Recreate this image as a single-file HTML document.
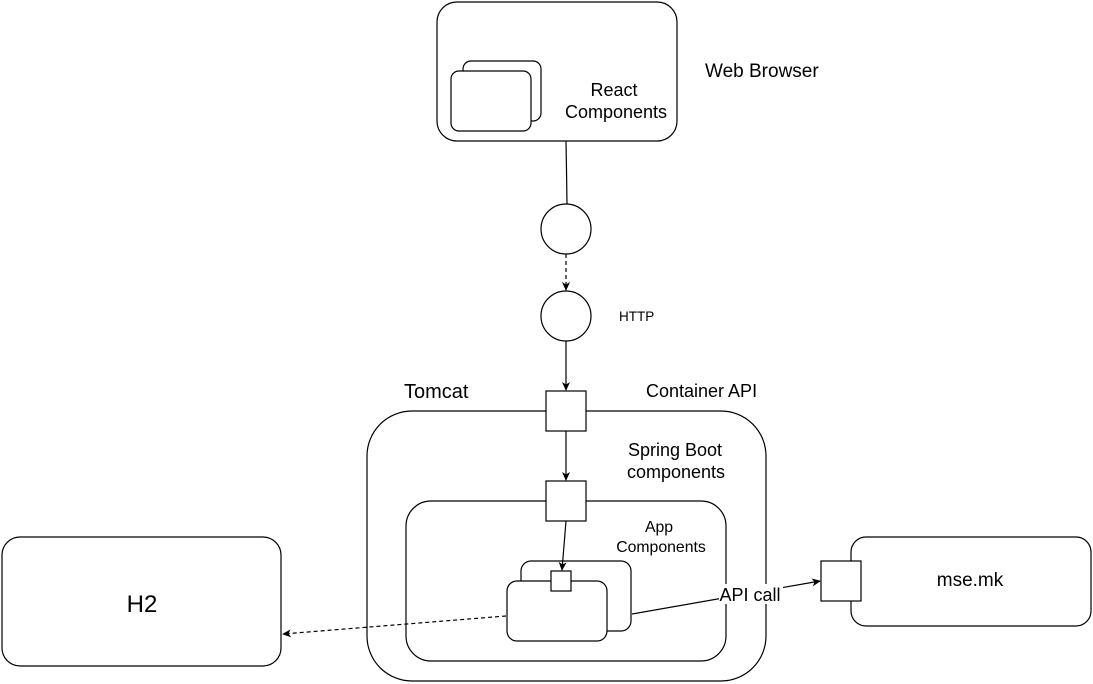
<!DOCTYPE html>
<html><head><meta charset="utf-8"><style>
html,body{margin:0;padding:0;background:#fff;}
svg{display:block;font-family:"Liberation Sans",Arial,sans-serif;}
</style></head><body>
<svg width="1093" height="684" viewBox="0 0 1093 684" xmlns="http://www.w3.org/2000/svg">
<defs>
<marker id="a" markerWidth="10" markerHeight="10" refX="8" refY="5" orient="auto" markerUnits="userSpaceOnUse">
<path d="M0,1 L9,5 L0,9 L2.5,5 Z" fill="#000"/></marker>
</defs>
<g fill="#fff" stroke="#000" stroke-width="1.2">
<rect x="437" y="2" width="240" height="139" rx="20"/>
<rect x="463" y="61" width="78" height="60" rx="8"/>
<rect x="451" y="71" width="80" height="60" rx="8"/>
<path d="M566,141 L566.5,170 L567,204" fill="none"/>
<circle cx="566" cy="229" r="25"/>
<circle cx="566" cy="316" r="25"/>
<rect x="367" y="411" width="399" height="270" rx="45"/>
<rect x="406" y="501" width="320" height="160" rx="25"/>
<rect x="2" y="537" width="279" height="129" rx="18"/>
<rect x="851" y="537" width="240" height="89" rx="15"/>
<rect x="821" y="561" width="40" height="40"/>
<rect x="521" y="561" width="110" height="70" rx="10"/>
<rect x="507" y="581" width="100" height="60" rx="10"/>
<rect x="551" y="571" width="20" height="20"/>
<rect x="546" y="391" width="40" height="40"/>
<rect x="546" y="481" width="40" height="40"/>
</g>
<g stroke="#000" stroke-width="1.2" fill="none">
<line x1="566" y1="254" x2="566" y2="290" stroke-dasharray="4,3" marker-end="url(#a)"/>
<line x1="566" y1="341" x2="566" y2="390" marker-end="url(#a)"/>
<line x1="566" y1="431" x2="566" y2="480" marker-end="url(#a)"/>
<line x1="566" y1="521" x2="562" y2="570" marker-end="url(#a)"/>
<line x1="506" y1="616" x2="283" y2="634" stroke-dasharray="4,3" marker-end="url(#a)"/>
<line x1="632" y1="614" x2="820" y2="581" marker-end="url(#a)"/>
</g>
<rect x="719" y="584" width="64" height="20" fill="#fff"/>
<g fill="#000" font-size="18">
<text x="705" y="77" font-size="19">Web Browser</text>
<text x="614" y="96" text-anchor="middle">React</text>
<text x="616" y="118" text-anchor="middle">Components</text>
<text x="619" y="321" font-size="13.5">HTTP</text>
<text x="404" y="398" font-size="20">Tomcat</text>
<text x="646" y="397">Container API</text>
<text x="675" y="456" text-anchor="middle">Spring Boot</text>
<text x="676" y="478" text-anchor="middle">components</text>
<text x="659" y="532" text-anchor="middle" font-size="15.8">App</text>
<text x="661" y="552" text-anchor="middle" font-size="15.8">Components</text>
<text x="750" y="601" text-anchor="middle">API call</text>
<text x="142" y="612" text-anchor="middle" font-size="24">H2</text>
<text x="970" y="586" text-anchor="middle" font-size="19">mse.mk</text>
</g>
</svg>
</body></html>
